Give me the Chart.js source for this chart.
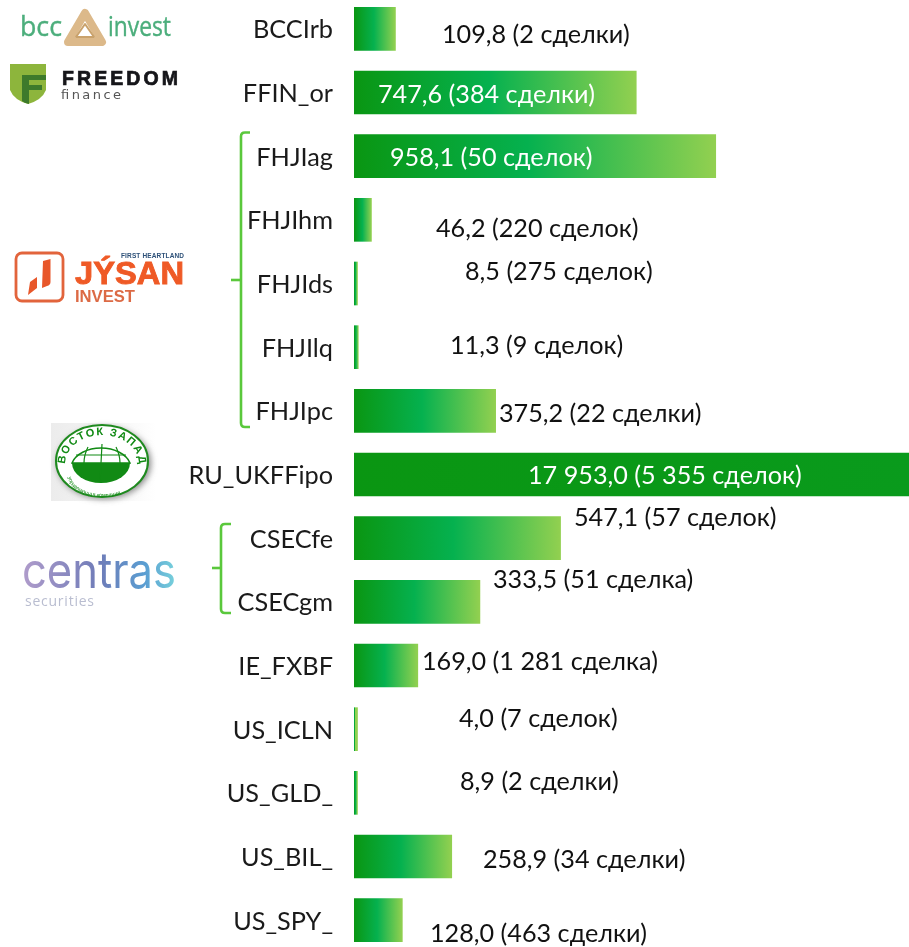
<!DOCTYPE html>
<html lang="ru">
<head>
    <meta charset="UTF-8">
    <title>Объем сделок</title>
    <script src="https://cdn.jsdelivr.net/npm/chart.js"></script>
    <style>
        html, body { margin: 0; padding: 0; background: #fff; overflow: hidden; width: 909px; height: 947px; }
        #chart { position: absolute; left: 0; top: -3px; }
        #logos { position: absolute; left: 0; top: 0; }
    </style>
</head>
<body>
    <canvas id="chart" width="909" height="955"></canvas>

    <!-- логотипы и скобки -->
    <svg id="logos" width="909" height="947" xmlns="http://www.w3.org/2000/svg">
        <defs>
            <linearGradient id="centrasFill" x1="0" x2="1" y1="0" y2="0">
                <stop offset="0" stop-color="#b09ccb"/>
                <stop offset="0.5" stop-color="#6f7cb8"/>
                <stop offset="0.8" stop-color="#5a9ed2"/>
                <stop offset="1" stop-color="#78d2dc"/>
            </linearGradient>
            <linearGradient id="greyBack" x1="0" x2="1" y1="0" y2="0">
                <stop offset="0" stop-color="#ececec"/>
                <stop offset="0.5" stop-color="#f4f4f4"/>
                <stop offset="1" stop-color="#ffffff"/>
            </linearGradient>
            <filter id="soft"><feGaussianBlur stdDeviation="3"/></filter>
            <path id="topArc" d="M65 464 A37 29 0 0 1 139 464"/>
            <path id="bottomArc" d="M68 476 A35 21 0 0 0 138 476"/>
        </defs>

        <!-- bcc invest -->
        <text x="20" y="36" font-family="Open Sans" font-size="27" fill="#4cae7c" stroke="#4cae7c" stroke-width="0.4" textLength="42" lengthAdjust="spacingAndGlyphs">bcc</text>
        <path d="M85 13 L102 42 L68 42 Z" fill="none" stroke="#dcb98a" stroke-width="8" stroke-linejoin="round"/>
        <path d="M85 24 L94 37 L76 37 Z" fill="#fff" stroke="#c9a26c" stroke-width="2" stroke-linejoin="round"/>
        <text x="108" y="36" font-family="Open Sans" font-size="27" fill="#4cae7c" stroke="#4cae7c" stroke-width="0.4" textLength="63" lengthAdjust="spacingAndGlyphs">invest</text>

        <!-- freedom finance -->
        <path d="M10 64 H46 V90 Q42 100 28 104 Q14 100 10 90 Z" fill="#8db53c"/>
        <path d="M22 75 H46 V80 H29 V85 H42 V90 H29 V104 Q24 103 22 101 Z" fill="#3d7a2b"/>
        <text x="62" y="85" font-family="Liberation Sans" font-weight="bold" font-size="19.5" fill="#16161a" stroke="#16161a" stroke-width="0.7" textLength="116">FREEDOM</text>
        <text x="61" y="99" font-family="DejaVu Sans" font-size="13" fill="#555" textLength="60">finance</text>

        <!-- jysan -->
        <rect x="16" y="253" width="47" height="48" rx="6" fill="none" stroke="#e2643c" stroke-width="2.8"/>
        <path d="M43 261 L50.5 259 V282 Q50.5 285 47 286 L42 288 Z" fill="#e8572a"/>
        <path d="M30 282 L37 277 V288 L28 295 Z" fill="#e8572a"/>
        <text x="121" y="257.500" font-family="Liberation Sans" font-weight="bold" font-size="6.5" fill="#2d5078" textLength="63">FIRST  HEARTLAND</text>
        <text x="75" y="284" font-family="Liberation Sans" font-weight="bold" font-size="32" fill="#ef5a26" stroke="#ef5a26" stroke-width="0.9" textLength="109" lengthAdjust="spacingAndGlyphs">JÝSAN</text>
        <text x="75" y="301.500" font-family="Liberation Sans" font-weight="bold" font-size="16" fill="#dc6a45" textLength="60" lengthAdjust="spacingAndGlyphs">INVEST</text>

        <!-- восток запад -->
        <rect x="51" y="423" width="105" height="78" fill="url(#greyBack)"/>
        <ellipse cx="104" cy="463" rx="47" ry="36" fill="#8a8a8a" filter="url(#soft)"/>
        <ellipse cx="102" cy="461" rx="46" ry="36" fill="#fff" stroke="#1f8a1f" stroke-width="2"/>
        <path d="M72 463 A30 20 0 0 1 130 463 Z" fill="#fff" stroke="#118a14" stroke-width="1.5"/>
        <path d="M72 463 H130 A29 20 0 0 1 72 463 Z" fill="#118a14"/>
        <path d="M88 447 Q84 455 84 463 M116 447 Q120 455 120 463 M76 455 H126 M102 444 L100 482" stroke="#118a14" stroke-width="1.2" fill="none"/>
        <text font-family="Liberation Sans" font-weight="bold" font-size="11" fill="#118a14"><textPath href="#topArc" startOffset="0" textLength="104" lengthAdjust="spacing">ВОСТОК ЗАПАД</textPath></text>
        <text font-family="Liberation Sans" font-size="5.5" fill="#118a14"><textPath href="#bottomArc" startOffset="1">управляющая компания</textPath></text>

        <!-- centras -->
        <text x="22" y="588" font-family="Inter" font-weight="400" font-size="50" fill="url(#centrasFill)" textLength="154" lengthAdjust="spacingAndGlyphs">centras</text>
        <text x="25" y="606" font-family="Open Sans" font-size="14" fill="#b9bdd0" textLength="69">securities</text>

        <!-- скобки -->
        <g fill="none" stroke="#5ac83c" stroke-width="2.6">
            <path d="M250 132.500 H245 Q241 132.500 241 136.500 V423 Q241 427 245 427 H250"/>
            <path d="M231 280 H241"/>
            <path d="M231 524 H225 Q221 524 221 528 V609 Q221 613 225 613 H231"/>
            <path d="M212 568 H221"/>
        </g>
    </svg>

    <script>
        const categories = ['BCCIrb', 'FFIN_or', 'FHJIag', 'FHJIhm', 'FHJIds', 'FHJIlq', 'FHJIpc', 'RU_UKFFipo', 'CSECfe', 'CSECgm', 'IE_FXBF', 'US_ICLN', 'US_GLD_', 'US_BIL_', 'US_SPY_'];
        const volumes = [109.8, 747.6, 958.1, 46.2, 8.5, 11.3, 375.2, 17953.0, 547.1, 333.5, 169.0, 4.0, 8.9, 258.9, 128.0];
        const volumeLabels = ['109,8', '747,6', '958,1', '46,2', '8,5', '11,3', '375,2', '17 953,0', '547,1', '333,5', '169,0', '4,0', '8,9', '258,9', '128,0'];
        const dealLabels = ['2 сделки', '384 сделки', '50 сделок', '220 сделок', '275 сделок', '9 сделок', '22 сделки', '5 355 сделок', '57 сделок', '51 сделка', '1 281 сделка', '7 сделок', '2 сделки', '34 сделки', '463 сделки'];

        // подписи стоят вручную, как на исходной картинке
        const labelLeft = [442, 378, 390, 436, 465, 450, 499, 528, 574, 493, 422, 459, 460, 483, 430];
        const labelShift = [5, 1, 0, 8, -13, -3, 2, 0, -22, -23, -5, -12, -12, 2, 12];
        const labelColors = ['#111', '#fff', '#fff', '#111', '#111', '#111', '#111', '#fff', '#111', '#111', '#111', '#111', '#111', '#111', '#111'];

        const barGradient = function(context) {
            const chart = context.chart;
            if (!chart.chartArea) return '#0a9614';
            const x = chart.scales.x;
            const start = x.getPixelForValue(0);
            const end = x.getPixelForValue(volumes[context.dataIndex]);
            const gradient = chart.ctx.createLinearGradient(start, 0, end, 0);
            gradient.addColorStop(0, '#0a9612');
            gradient.addColorStop(0.48, '#05b14f');
            gradient.addColorStop(1, '#92d050');
            return gradient;
        };

        // подписи значений
        const dealText = {
            id: 'dealText',
            afterDatasetsDraw(chart) {
                const ctx = chart.ctx;
                const y = chart.scales.y;
                ctx.save();
                ctx.font = '25.2px Lato, "Open Sans", sans-serif';
                ctx.textAlign = 'left';
                ctx.textBaseline = 'middle';
                categories.forEach((name, i) => {
                    ctx.fillStyle = labelColors[i];
                    ctx.fillText(volumeLabels[i] + ' (' + dealLabels[i] + ')', labelLeft[i], y.getPixelForValue(i) + labelShift[i] + 1.5);
                });
                ctx.restore();
            }
        };

        new Chart(document.getElementById('chart').getContext('2d'), {
            type: 'bar',
            data: {
                labels: categories,
                datasets: [{
                    data: volumes,
                    backgroundColor: barGradient,
                    borderWidth: 0,
                    barThickness: 43,
                    minBarLength: 3.5
                }]
            },
            options: {
                indexAxis: 'y',
                responsive: false,
                animation: false,
                layout: { padding: 0 },
                plugins: {
                    legend: { display: false },
                    tooltip: { enabled: false }
                },
                scales: {
                    x: {
                        display: false,
                        min: 0,
                        max: 1470
                    },
                    y: {
                        afterFit(axis) {
                            axis.width = 354;
                            axis.paddingTop = 0;
                            axis.paddingBottom = 0;
                        },
                        grid: { display: false, drawTicks: false },
                        border: { display: false },
                        ticks: {
                            color: '#1a1a1a',
                            padding: 21,
                            labelOffset: 1.5,
                            font: { family: 'Lato, "Open Sans", sans-serif', size: 25.3 }
                        }
                    }
                }
            },
            plugins: [dealText]
        });
    </script>
</body>
</html>
